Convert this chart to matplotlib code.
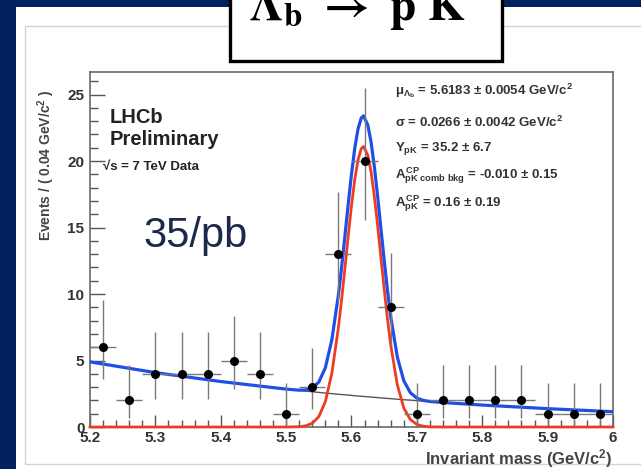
import matplotlib
matplotlib.use('Agg')
import matplotlib.pyplot as plt
from matplotlib.patches import Rectangle
from matplotlib.ticker import MultipleLocator, FixedLocator, FixedFormatter
import numpy as np

plt.rcParams['font.family'] = ['Liberation Sans', 'DejaVu Sans']
plt.rcParams['font.weight'] = 'bold'
plt.rcParams['mathtext.fontset'] = 'custom'
plt.rcParams['mathtext.rm'] = 'Liberation Sans:bold'
plt.rcParams['mathtext.it'] = 'Liberation Sans:bold'
plt.rcParams['mathtext.bf'] = 'Liberation Sans:bold'

# data points (bin centres, counts, asymmetric poisson errors)
bin_centers = [5.22, 5.26, 5.30, 5.34, 5.38, 5.42, 5.46, 5.50, 5.54, 5.58,
               5.62, 5.66, 5.70, 5.74, 5.78, 5.82, 5.86, 5.90, 5.94, 5.98]
counts = [6, 2, 4, 4, 4, 5, 4, 1, 3, 13, 20, 9, 1, 2, 2, 2, 2, 1, 1, 1]
err_lo = [2.38, 1.29, 1.91, 1.91, 1.91, 2.16, 1.91, 0.83, 1.63, 3.56,
          4.43, 2.94, 0.83, 1.29, 1.29, 1.29, 1.29, 0.83, 0.83, 0.83]
err_hi = [3.58, 2.64, 3.16, 3.16, 3.16, 3.38, 3.16, 2.30, 2.92, 4.67,
          5.50, 4.11, 2.30, 2.64, 2.64, 2.64, 2.64, 2.30, 2.30, 2.30]
bin_half = 0.02

# fit curves
curve_x = [5.20, 5.30, 5.40, 5.50, 5.52, 5.53, 5.54, 5.55, 5.56, 5.57,
           5.58, 5.585, 5.59, 5.595, 5.60, 5.605, 5.61, 5.615, 5.6183,
           5.625, 5.63, 5.635, 5.64, 5.645, 5.65, 5.655, 5.66, 5.67,
           5.68, 5.69, 5.70, 5.71, 5.72, 5.74, 5.80, 5.90, 6.00]
signal = [0.0, 0.0, 0.0, 0.0, 0.02, 0.09, 0.28, 0.78, 1.91, 4.06,
          7.48, 9.63, 11.98, 14.38, 16.65, 18.62, 20.10, 20.94, 21.10,
          20.44, 19.16, 17.32, 15.13, 12.74, 10.37, 8.14, 6.17, 3.19,
          1.43, 0.56, 0.19, 0.06, 0.01, 0.0, 0.0, 0.0, 0.0]
background = [4.90, 4.09, 3.42, 2.85, 2.75, 2.70, 2.65, 2.60, 2.55, 2.51,
              2.46, 2.44, 2.42, 2.40, 2.38, 2.35, 2.33, 2.31, 2.30,
              2.27, 2.25, 2.23, 2.21, 2.19, 2.17, 2.15, 2.13, 2.09,
              2.05, 2.02, 1.98, 1.94, 1.91, 1.84, 1.65, 1.38, 1.15]

xtick_vals = [5.2, 5.3, 5.4, 5.5, 5.6, 5.7, 5.8, 5.9, 6.0]
xtick_labels = ['5.2', '5.3', '5.4', '5.5', '5.6', '5.7', '5.8', '5.9', '6']

W, H = 641, 469
def fx(px):
    return px / W
def fy(py):
    return 1 - py / H

fig = plt.figure(figsize=(6.41, 4.69), dpi=100, facecolor='#03205f')

# white slide area + faint frame of the pasted picture
fig.patches.append(Rectangle((fx(16), 0), 1, fy(7), transform=fig.transFigure,
                             facecolor='white', edgecolor='none', zorder=-2))
fig.patches.append(Rectangle((fx(25), fy(464)), 1, fy(26) - fy(464),
                             transform=fig.transFigure, facecolor='none',
                             edgecolor='#d4d4d4', lw=1.0, zorder=-1))

ax = fig.add_axes([fx(90), fy(427), fx(613) - fx(90), fy(72) - fy(427)])
ax.set_zorder(2)
ax.set_xlim(5.2, 6.0)
ax.set_ylim(0, 26.7)

total = np.array(background) + np.array(signal)
ax.plot(curve_x, background, color='#555555', lw=1.0, zorder=2)
ax.plot(curve_x, signal, color='#ee3b22', lw=2.0, zorder=3, clip_on=False)
ax.plot(curve_x, total, color='#1f4fe6', lw=2.3, zorder=4)

ax.errorbar(bin_centers, counts, yerr=[err_lo, err_hi], xerr=bin_half,
            fmt='none', ecolor='#7a7a7a', elinewidth=1.0, capsize=0, zorder=5)
ax.plot(bin_centers, counts, 'o', color='black', ms=5.5, zorder=6)

for s in ax.spines.values():
    s.set_color('#6a6a6a')
    s.set_linewidth(1.2)

ax.xaxis.set_major_locator(FixedLocator(xtick_vals))
ax.xaxis.set_major_formatter(FixedFormatter(xtick_labels))
ax.xaxis.set_minor_locator(MultipleLocator(0.02))
ax.yaxis.set_major_locator(MultipleLocator(5))
ax.yaxis.set_minor_locator(MultipleLocator(1))
ax.tick_params(which='both', direction='in', color='#555555', width=1.0,
               labelcolor='#333333', labelsize=11)
ax.tick_params(axis='y', which='major', length=11, pad=4)
ax.tick_params(axis='y', which='minor', length=6)
ax.tick_params(axis='x', which='major', length=9, pad=3)
ax.tick_params(axis='x', which='minor', length=5)

fig.text(fx(46), fy(165), r'Events / ( 0.04 GeV/c$^{2}$ )', rotation=90,
         ha='center', va='center', fontsize=10, color='#444444')
fig.text(fx(613), fy(464), r'Invariant mass (GeV/c$^{2}$)', ha='right',
         va='baseline', fontsize=12, color='#444444')

fig.text(fx(110), fy(123), 'LHCb', fontsize=14.5, color='#222222')
fig.text(fx(110), fy(145), 'Preliminary', fontsize=14.5, color='#222222')
fig.text(fx(103), fy(170), '\u221as = 7 TeV Data', fontsize=9.5, color='#222222')
fig.text(fx(143), fy(247), '35/pb', fontsize=30, fontweight='normal',
         color='#1b2a4a')

params = [
    (94, r'$\mu_{\Lambda_b}$ = 5.6183 $\pm$ 0.0054 GeV/c$^{2}$'),
    (127, r'$\sigma$ = 0.0266 $\pm$ 0.0042 GeV/c$^{2}$'),
    (151, r'$Y_{pK}$ = 35.2 $\pm$ 6.7'),
    (178, r'$A^{CP}_{pK\ comb\ bkg}$ = -0.010 $\pm$ 0.15'),
    (206, r'$A^{CP}_{pK}$ = 0.16 $\pm$ 0.19'),
]
for py, txt in params:
    fig.text(fx(395), fy(py), txt, fontsize=9.5, color='#333333', va='baseline')

# title box at the top
fig.patches.append(Rectangle((fx(230), fy(61.5)), fx(501.5) - fx(230), 0.2,
                             transform=fig.transFigure, facecolor='white',
                             edgecolor='black', lw=2.4, zorder=10))
fig.text(fx(357), fy(20), r'$\mathbf{\Lambda_b\ \rightarrow\ p\ K}$',
         math_fontfamily='stix', fontsize=34, ha='center', va='baseline',
         color='black', zorder=11)

fig.savefig('out.png', dpi=100, facecolor=fig.get_facecolor())
